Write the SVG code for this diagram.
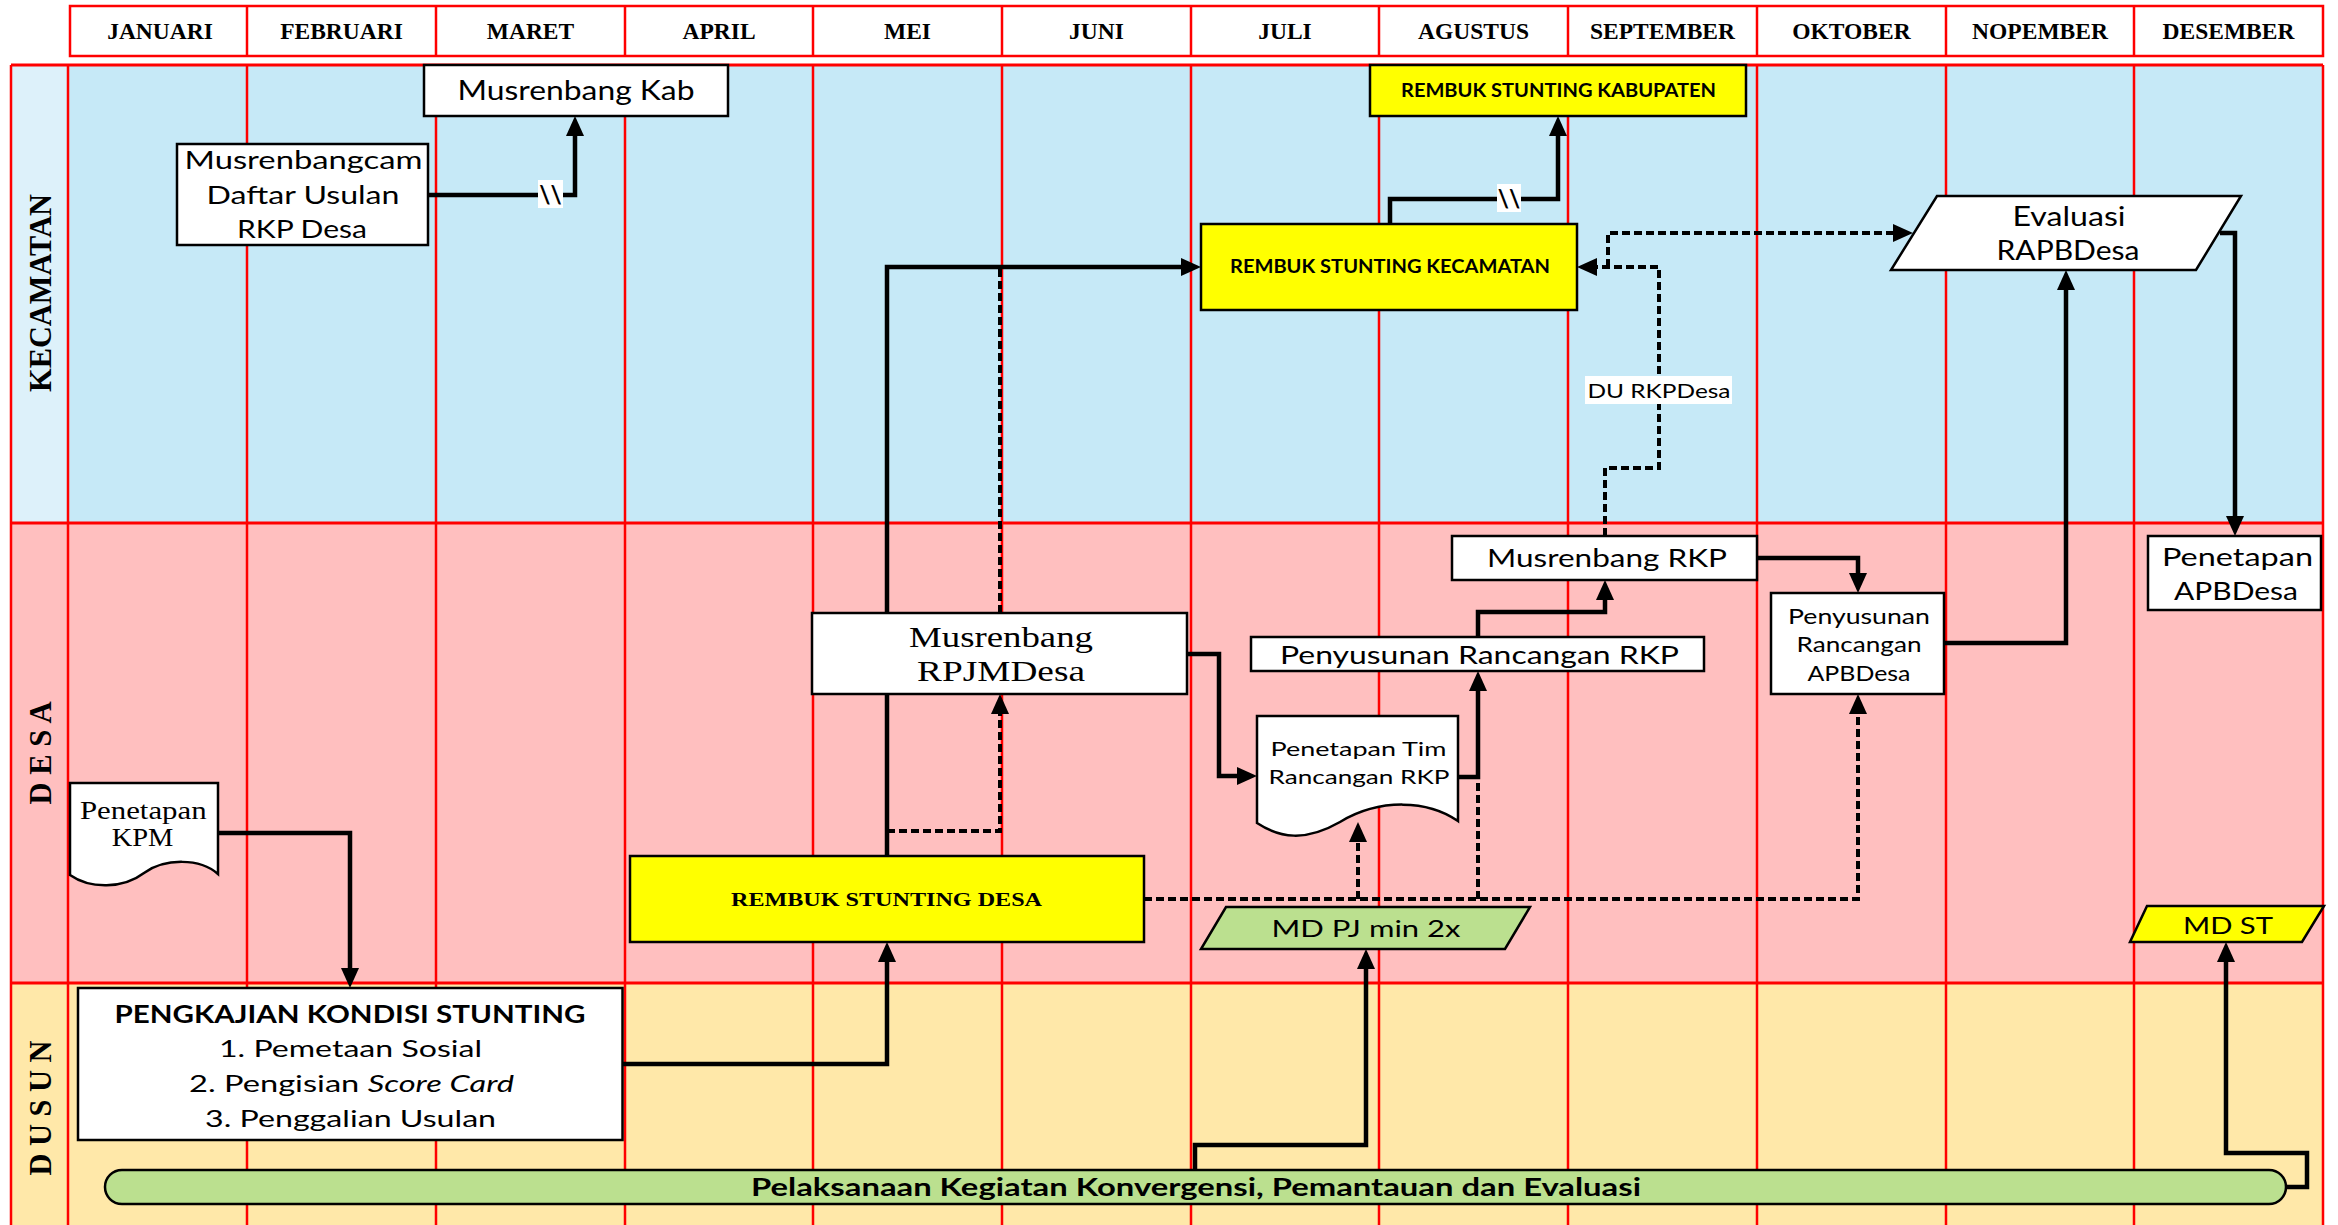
<svg xmlns="http://www.w3.org/2000/svg" width="2338" height="1225" viewBox="0 0 2338 1225">
<style>
.redv{stroke:#FF0000;stroke-width:2.5}
.redh{stroke:#FF0000;stroke-width:3}
.box{fill:#FFFFFF;stroke:#000;stroke-width:2.5}
.ybox{fill:#FFFF00;stroke:#000;stroke-width:2.5}
.gbox{fill:#BBE08F;stroke:#000;stroke-width:2.5}
.conn{fill:none;stroke:#000;stroke-width:4.5;stroke-linejoin:miter}
.dash{stroke-width:4;stroke-dasharray:8 4}
.arr{marker-end:url(#ah)}
.sans{font-family:Lato,'Open Sans','Liberation Sans',sans-serif;text-anchor:middle;fill:#000}
.serif{font-family:'Liberation Serif','Times New Roman',serif;text-anchor:middle;fill:#000}
.month{font-family:'Liberation Serif','Times New Roman',serif;font-weight:bold;font-size:23.5px;text-anchor:middle;fill:#000}
.lane{font-family:'Liberation Serif','Times New Roman',serif;font-weight:bold;font-size:32px;text-anchor:middle;fill:#000}
.b{font-weight:bold}
</style>
<defs>
<marker id="ah" markerUnits="userSpaceOnUse" markerWidth="20" markerHeight="18" refX="10" refY="9" orient="auto" viewBox="0 0 20 18">
<path d="M0,0 L20,9 L0,18 Z" fill="#000"/>
</marker>
</defs>
<rect x="0" y="0" width="2338" height="1225" fill="#FFFFFF"/>
<g id="header">
<rect x="70" y="6" width="2253" height="50" fill="#FFFFFF" stroke="#FF0000" stroke-width="2.5"/>
<g class="redv">
<line x1="247" y1="6" x2="247" y2="56"/><line x1="436" y1="6" x2="436" y2="56"/><line x1="625" y1="6" x2="625" y2="56"/><line x1="813" y1="6" x2="813" y2="56"/><line x1="1002" y1="6" x2="1002" y2="56"/><line x1="1191" y1="6" x2="1191" y2="56"/><line x1="1379" y1="6" x2="1379" y2="56"/><line x1="1568" y1="6" x2="1568" y2="56"/><line x1="1757" y1="6" x2="1757" y2="56"/><line x1="1946" y1="6" x2="1946" y2="56"/><line x1="2134" y1="6" x2="2134" y2="56"/>
</g>
<text class="month" x="160" y="39">JANUARI</text>
<text class="month" x="341.5" y="39">FEBRUARI</text>
<text class="month" x="530.5" y="39">MARET</text>
<text class="month" x="719" y="39">APRIL</text>
<text class="month" x="907.5" y="39">MEI</text>
<text class="month" x="1096.5" y="39">JUNI</text>
<text class="month" x="1285" y="39">JULI</text>
<text class="month" x="1473.5" y="39">AGUSTUS</text>
<text class="month" x="1662.5" y="39">SEPTEMBER</text>
<text class="month" x="1851.5" y="39">OKTOBER</text>
<text class="month" x="2040" y="39">NOPEMBER</text>
<text class="month" x="2228.5" y="39">DESEMBER</text>
</g>
<g id="lanes">
<rect x="68" y="65" width="2255" height="458" fill="#C6E9F7"/>
<rect x="11" y="65" width="57" height="458" fill="#DDF1FA"/>
<rect x="11" y="523" width="2312" height="460" fill="#FFBFBF"/>
<rect x="11" y="983" width="2312" height="242" fill="#FFE8A9"/>
<g class="redv">
<line x1="11" y1="65" x2="11" y2="1225"/><line x1="68" y1="65" x2="68" y2="1225"/>
<line x1="247" y1="65" x2="247" y2="1225"/><line x1="436" y1="65" x2="436" y2="1225"/><line x1="625" y1="65" x2="625" y2="1225"/><line x1="813" y1="65" x2="813" y2="1225"/><line x1="1002" y1="65" x2="1002" y2="1225"/><line x1="1191" y1="65" x2="1191" y2="1225"/><line x1="1379" y1="65" x2="1379" y2="1225"/><line x1="1568" y1="65" x2="1568" y2="1225"/><line x1="1757" y1="65" x2="1757" y2="1225"/><line x1="1946" y1="65" x2="1946" y2="1225"/><line x1="2134" y1="65" x2="2134" y2="1225"/><line x1="2323" y1="65" x2="2323" y2="1225"/>
</g>
<g class="redh">
<line x1="11" y1="65" x2="2323" y2="65"/><line x1="11" y1="523" x2="2323" y2="523"/><line x1="11" y1="983" x2="2323" y2="983"/>
</g>
<text class="lane" transform="translate(51,293) rotate(-90)" textLength="198" lengthAdjust="spacingAndGlyphs">KECAMATAN</text>
<text class="lane" transform="translate(51,753) rotate(-90)" textLength="103" lengthAdjust="spacingAndGlyphs">D E S A</text>
<text class="lane" transform="translate(51,1108) rotate(-90)" textLength="135" lengthAdjust="spacingAndGlyphs">D U S U N</text>
</g>
<g id="connectors">
<path class="conn arr" d="M428,195 H575 V126"/>
<path class="conn arr" d="M1390,224 V199 H1558 V126"/>
<path class="conn arr" d="M887,856 V267 H1191"/>
<path class="conn dash arr" d="M887,831 H1000 V704"/>
<path class="conn dash" d="M1000,613 V267"/>
<path class="conn arr" d="M1187,654 H1219 V776 H1247"/>
<path class="conn arr" d="M1458,777 H1478 V681"/>
<path class="conn arr" d="M1478,637 V612 H1605 V590"/>
<path class="conn arr" d="M1757,558 H1858 V583"/>
<path class="conn arr" d="M1944,643 H2066 V280"/>
<path class="conn arr" d="M2220,233 H2235 V526"/>
<path class="conn dash arr" d="M1605,536 V468 H1659 V267 H1587"/>
<path class="conn dash arr" d="M1608,267 V233 H1903"/>
<path class="conn dash arr" d="M1144,899 H1858 V704"/>
<path class="conn dash arr" d="M1358,899 V832"/>
<path class="conn dash" d="M1478,899 V777"/>
<path class="conn arr" d="M218,833 H350 V978"/>
<path class="conn arr" d="M622,1064 H887 V952"/>
<path class="conn arr" d="M1195,1170 V1145 H1366 V959"/>
<path class="conn arr" d="M2286,1187 H2307 V1153 H2226 V952"/>
<rect x="538" y="180" width="25" height="28" fill="#FFFFFF"/>
<text class="sans b" x="550.5" y="204" font-size="24">\\</text>
<rect x="1497" y="184" width="24" height="28" fill="#FFFFFF"/>
<text class="sans b" x="1509" y="208" font-size="24">\\</text>
<rect x="1585" y="376" width="147" height="28" fill="#FFFFFF"/>
<text class="sans" x="1659" y="397.5" font-size="20" textLength="143" lengthAdjust="spacingAndGlyphs">DU RKPDesa</text>
</g>
<g id="musrenbang-kab">
<rect class="box" x="424" y="65" width="304" height="51"/>
<text class="sans" x="576" y="99.5" font-size="27" textLength="237" lengthAdjust="spacingAndGlyphs">Musrenbang Kab</text>
</g>
<g id="musrenbangcam">
<rect class="box" x="177" y="144" width="251" height="101"/>
<text class="sans" x="303.5" y="168.5" font-size="25" textLength="238" lengthAdjust="spacingAndGlyphs">Musrenbangcam</text>
<text class="sans" x="303" y="203.5" font-size="25" textLength="193" lengthAdjust="spacingAndGlyphs">Daftar Usulan</text>
<text class="sans" x="302" y="237.5" font-size="25" textLength="130" lengthAdjust="spacingAndGlyphs">RKP Desa</text>
</g>
<g id="rembuk-kabupaten">
<rect class="ybox" x="1370" y="65" width="376" height="51"/>
<text class="sans b" x="1558.5" y="97" font-size="18" textLength="315" lengthAdjust="spacingAndGlyphs">REMBUK STUNTING KABUPATEN</text>
</g>
<g id="rembuk-kecamatan">
<rect class="ybox" x="1201" y="224" width="376" height="86"/>
<text class="sans b" x="1390" y="273" font-size="18" textLength="320" lengthAdjust="spacingAndGlyphs">REMBUK STUNTING KECAMATAN</text>
</g>
<g id="evaluasi-rapbdesa">
<polygon class="box" points="1937,196 2241,196 2196,270 1891,270"/>
<text class="sans" x="2069" y="226" font-size="26" textLength="113" lengthAdjust="spacingAndGlyphs">Evaluasi</text>
<text class="sans" x="2068" y="259.5" font-size="26" textLength="143" lengthAdjust="spacingAndGlyphs">RAPBDesa</text>
</g>
<g id="musrenbang-rpjmdesa">
<rect class="box" x="812" y="613" width="375" height="81"/>
<text class="serif" x="1001" y="647" font-size="29" textLength="184" lengthAdjust="spacingAndGlyphs">Musrenbang</text>
<text class="serif" x="1001" y="681" font-size="29" textLength="168" lengthAdjust="spacingAndGlyphs">RPJMDesa</text>
</g>
<g id="musrenbang-rkp">
<rect class="box" x="1452" y="536" width="305" height="44"/>
<text class="sans" x="1607" y="567" font-size="25" textLength="240" lengthAdjust="spacingAndGlyphs">Musrenbang RKP</text>
</g>
<g id="penyusunan-rancangan-rkp">
<rect class="box" x="1251" y="637" width="453" height="34"/>
<text class="sans" x="1479.5" y="663.5" font-size="25" textLength="399" lengthAdjust="spacingAndGlyphs">Penyusunan Rancangan RKP</text>
</g>
<g id="penetapan-tim">
<path class="box" d="M1257,716 H1458 V821 C1428,800 1380,798 1340,822 C1305,842 1280,838 1257,823 Z"/>
<text class="sans" x="1358.5" y="756" font-size="20" textLength="176" lengthAdjust="spacingAndGlyphs">Penetapan Tim</text>
<text class="sans" x="1359" y="784" font-size="20" textLength="181" lengthAdjust="spacingAndGlyphs">Rancangan RKP</text>
</g>
<g id="penyusunan-apbdesa">
<rect class="box" x="1771" y="593" width="173" height="101"/>
<text class="sans" x="1859" y="623.5" font-size="22" textLength="142" lengthAdjust="spacingAndGlyphs">Penyusunan</text>
<text class="sans" x="1859" y="652" font-size="22" textLength="125" lengthAdjust="spacingAndGlyphs">Rancangan</text>
<text class="sans" x="1859" y="680.5" font-size="22" textLength="103" lengthAdjust="spacingAndGlyphs">APBDesa</text>
</g>
<g id="penetapan-apbdesa">
<rect class="box" x="2148" y="536" width="173" height="74"/>
<text class="sans" x="2237.5" y="565.5" font-size="25" textLength="151" lengthAdjust="spacingAndGlyphs">Penetapan</text>
<text class="sans" x="2236" y="600" font-size="25" textLength="124" lengthAdjust="spacingAndGlyphs">APBDesa</text>
</g>
<g id="penetapan-kpm">
<path class="box" d="M70,783 H218 V874 C200,858 165,858 144,873 C123,889 90,889 70,875 Z"/>
<text class="serif" x="143.3" y="818.5" font-size="25" textLength="126.7" lengthAdjust="spacingAndGlyphs">Penetapan</text>
<text class="serif" x="142.5" y="845.5" font-size="25" textLength="61.7" lengthAdjust="spacingAndGlyphs">KPM</text>
</g>
<g id="rembuk-desa">
<rect class="ybox" x="630" y="856" width="514" height="86"/>
<text class="serif b" x="886.5" y="906" font-size="19.5" textLength="311" lengthAdjust="spacingAndGlyphs">REMBUK STUNTING DESA</text>
</g>
<g id="md-pj">
<polygon class="gbox" points="1226,907 1530,907 1505,949 1201,949"/>
<text class="sans" x="1366" y="937" font-size="23" textLength="189" lengthAdjust="spacingAndGlyphs">MD PJ min 2x</text>
</g>
<g id="md-st">
<polygon class="ybox" points="2147,906 2324,906 2302,942 2130,942"/>
<text class="sans" x="2228" y="933.5" font-size="24" textLength="90" lengthAdjust="spacingAndGlyphs">MD ST</text>
</g>
<g id="pengkajian">
<rect class="box" x="78" y="988" width="544.5" height="152"/>
<text class="sans b" x="350" y="1023" font-size="24" textLength="471" lengthAdjust="spacingAndGlyphs">PENGKAJIAN KONDISI STUNTING</text>
<text class="sans" x="350.5" y="1056.5" font-size="23" textLength="263" lengthAdjust="spacingAndGlyphs">1. Pemetaan Sosial</text>
<text class="sans" x="189" y="1091.5" font-size="23" style="text-anchor:start" textLength="325" lengthAdjust="spacingAndGlyphs">2. Pengisian <tspan font-style="italic">Score Card</tspan></text>
<text class="sans" x="350.6" y="1126.5" font-size="23" textLength="291" lengthAdjust="spacingAndGlyphs">3. Penggalian Usulan</text>
</g>
<g id="pelaksanaan">
<rect class="gbox" x="105" y="1170" width="2181" height="34" rx="17" ry="17"/>
<text class="sans b" x="1196" y="1195.5" font-size="24" textLength="890" lengthAdjust="spacingAndGlyphs">Pelaksanaan Kegiatan Konvergensi, Pemantauan dan Evaluasi</text>
</g>
</svg>
